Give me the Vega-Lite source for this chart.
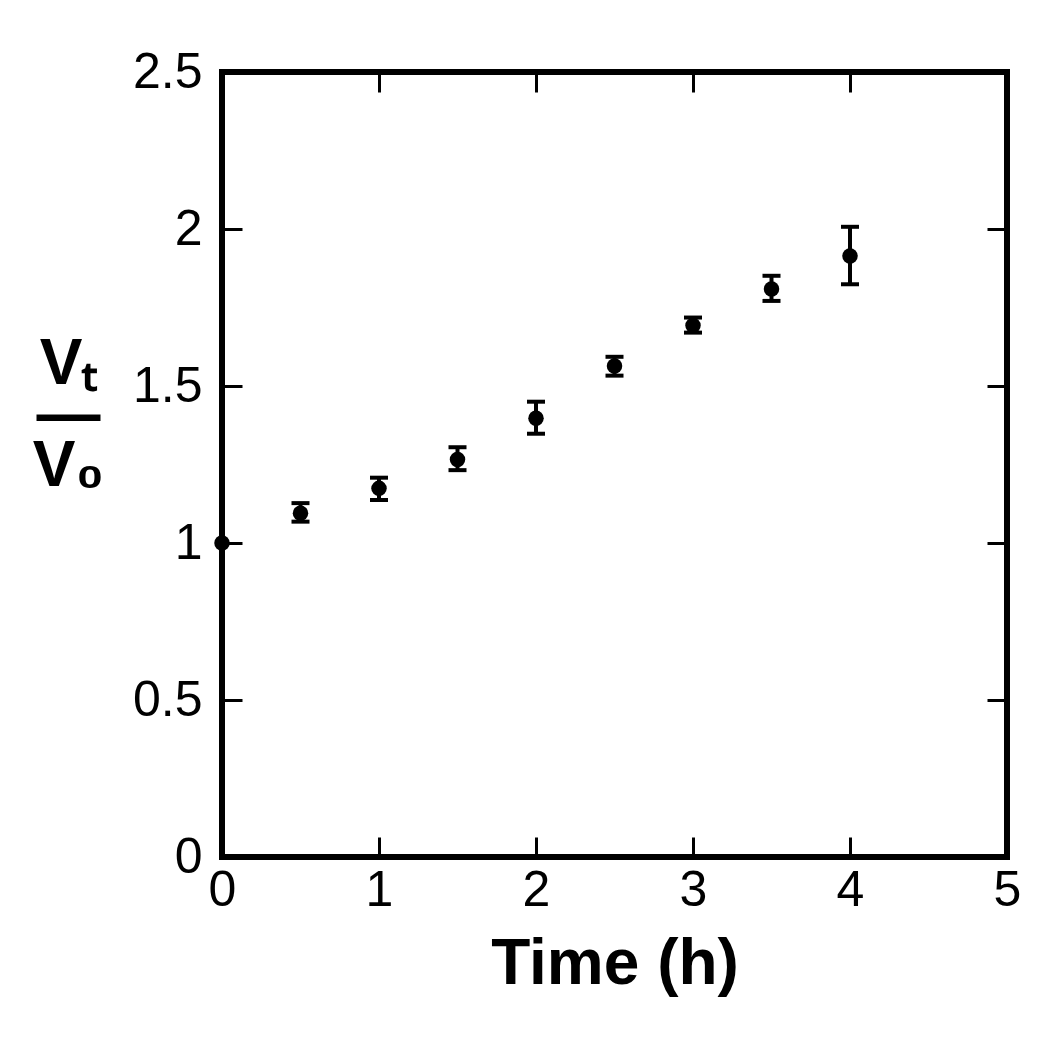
{
  "$schema": "https://vega.github.io/schema/vega-lite/v6.json",
  "width": 785,
  "height": 785,
  "autosize": {"type": "none"},
  "padding": {"left": 222, "top": 72, "right": 43, "bottom": 197},
  "background": "white",
  "config": {
    "view": {"stroke": "black", "strokeWidth": 6},
    "axis": {
      "domain": false,
      "grid": false,
      "ticks": true,
      "tickSize": -20,
      "tickWidth": 3,
      "tickColor": "black",
      "labelFlush": false,
      "labelFont": "Liberation Sans",
      "labelFontSize": 50,
      "labelColor": "black",
      "titleFont": "Liberation Sans",
      "titleFontWeight": "bold",
      "titleFontSize": 64,
      "titleColor": "black"
    }
  },
  "data": {
    "values": [
      {"t": 0, "v": 1.0, "lo": null, "hi": null},
      {"t": 0.5, "v": 1.095, "lo": 1.068, "hi": 1.127},
      {"t": 1, "v": 1.174, "lo": 1.137, "hi": 1.208},
      {"t": 1.5, "v": 1.266, "lo": 1.232, "hi": 1.305},
      {"t": 2, "v": 1.397, "lo": 1.348, "hi": 1.45},
      {"t": 2.5, "v": 1.564, "lo": 1.533, "hi": 1.593},
      {"t": 3, "v": 1.693, "lo": 1.67, "hi": 1.718},
      {"t": 3.5, "v": 1.809, "lo": 1.771, "hi": 1.851},
      {"t": 4, "v": 1.914, "lo": 1.824, "hi": 2.007}
    ]
  },
  "layer": [
    {
      "mark": {"type": "point", "opacity": 0},
      "encoding": {
        "x": {
          "field": "t", "type": "quantitative",
          "scale": {"domain": [0, 5], "nice": false, "zero": false},
          "axis": {
            "orient": "bottom",
            "values": [0, 1, 2, 3, 4, 5],
            "format": "~g",
            "labelPadding": 28,
            "title": "Time (h)",
            "titleY": 126,
            "titleBaseline": "alphabetic"
          }
        },
        "y": {
          "field": "v", "type": "quantitative",
          "scale": {"domain": [0, 2.5], "nice": false, "zero": false},
          "axis": {
            "orient": "left",
            "values": [0, 0.5, 1, 1.5, 2, 2.5],
            "format": "~g",
            "labelPadding": 40,
            "title": ["Vₜ", "—", "V₀"],
            "titleAngle": 0,
            "titleAlign": "center",
            "titleBaseline": "alphabetic",
            "titleX": -154,
            "titleY": 311,
            "titleLineHeight": 51
          }
        }
      }
    },
    {
      "mark": {"type": "rule", "color": "black", "strokeWidth": 4},
      "encoding": {
        "x": {"field": "t", "type": "quantitative", "axis": null},
        "y": {"field": "lo", "type": "quantitative", "axis": null},
        "y2": {"field": "hi"}
      }
    },
    {
      "mark": {"type": "tick", "orient": "horizontal", "color": "black", "size": 18, "thickness": 4, "opacity": 1},
      "encoding": {
        "x": {"field": "t", "type": "quantitative", "axis": null},
        "y": {"field": "lo", "type": "quantitative", "axis": null}
      }
    },
    {
      "mark": {"type": "tick", "orient": "horizontal", "color": "black", "size": 18, "thickness": 4, "opacity": 1},
      "encoding": {
        "x": {"field": "t", "type": "quantitative", "axis": null},
        "y": {"field": "hi", "type": "quantitative", "axis": null}
      }
    },
    {
      "mark": {"type": "point", "filled": true, "color": "black", "opacity": 1, "size": 240},
      "encoding": {
        "x": {
          "field": "t", "type": "quantitative",
          "axis": {"orient": "top", "values": [1, 2, 3, 4], "labels": false, "title": null}
        },
        "y": {
          "field": "v", "type": "quantitative",
          "axis": {"orient": "right", "values": [0.5, 1, 1.5, 2], "labels": false, "title": null}
        }
      }
    }
  ],
  "resolve": {"axis": {"x": "independent", "y": "independent"}}
}
